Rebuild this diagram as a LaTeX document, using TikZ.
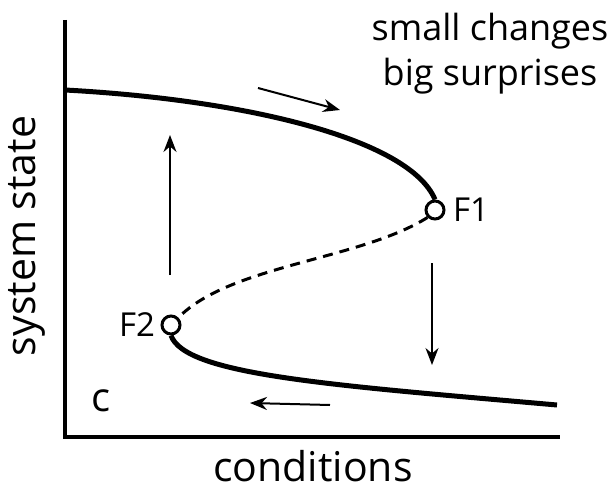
\documentclass[tikz,border=0pt]{standalone}
\usepackage{fontspec}
\setmainfont{Open Sans}
\usetikzlibrary{arrows.meta,positioning,calc}

\begin{document}
\begin{tikzpicture}[x=1pt,y=-1pt,
  fold/.style={circle,draw,line width=3pt,fill=white,inner sep=0pt,minimum size=18pt},
  branch/.style={line width=5pt},
  flow/.style={line width=2pt,-{Stealth[length=17pt,width=13pt]}},
  lbl/.style={font=\fontsize{33}{40}\selectfont},
  axlbl/.style={font=\fontsize{41}{48}\selectfont}]
  \useasboundingbox (0,0) rectangle (615,492);
  % axes
  \coordinate (top) at (65,20);
  \coordinate (origin) at (65,437);
  \coordinate (right) at (560,437);
  \draw[line width=3.5pt] (top) -- (origin) -- (right);
  % fold points
  \node[fold] (F1) at (435,210) {};
  \node[fold] (F2) at (171,325) {};
  % branches
  \coordinate (upstart) at (65,90);
  \coordinate (lowend) at (557,405);
  \draw[branch] (upstart) .. controls (250,100) and (410,140) .. (F1.north);
  \draw[branch] (F2.south) .. controls (185,375) and (330,385) .. (lowend);
  \draw[line width=3pt,dash pattern=on 10pt off 7pt] (F1.south west)
    .. controls (360,260) and (230,265) .. (F2.north east);
  % arrows
  \foreach \a/\b [count=\i] in {{258,88}/{340,110},{170,275}/{170,135},{432,263}/{432,365},{330,405}/{250,403}} {
    \coordinate (s\i) at (\a);
    \coordinate (e\i) at (\b);
    \draw[flow] (s\i) -- (e\i);
  }
  % labels
  \node[lbl,right=4pt of F1] (f1lbl) {F1};
  \node[lbl,left=2pt of F2] (f2lbl) {F2};
  \node[font=\fontsize{36}{45}\selectfont,align=center] (msg) at (490,54) {small changes\\big surprises};
  \node[axlbl,rotate=90] (ylbl) at (27,236) {system state};
  \node[axlbl] (xlbl) at (313,466) {conditions};
  \node[font=\fontsize{40}{48}\selectfont] (panel) at (101,401) {c};
\end{tikzpicture}
\end{document}
